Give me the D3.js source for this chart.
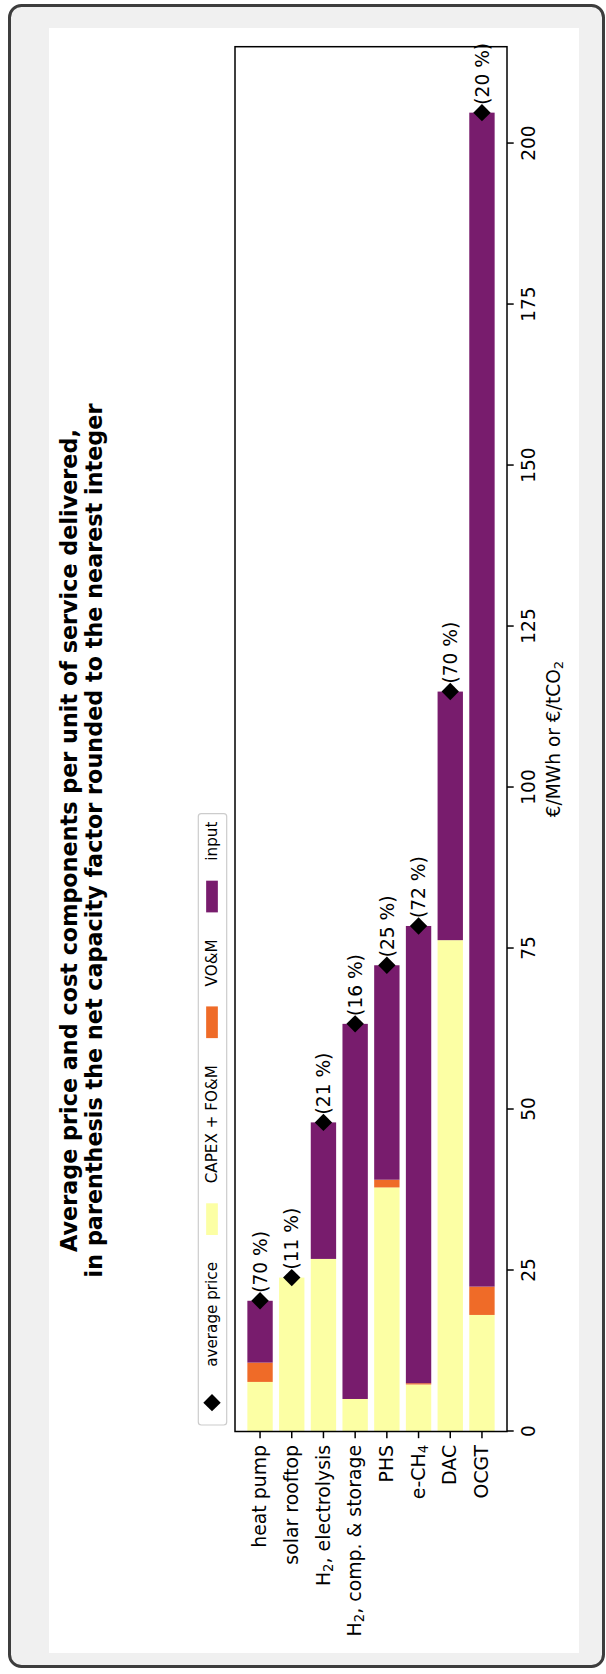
<!DOCTYPE html>
<html>
<head>
<meta charset="utf-8">
<script src="https://cdn.jsdelivr.net/npm/d3@7"></script>
<style>
  html, body { margin: 0; padding: 0; background: #ffffff; }
  svg { display: block; font-family: "DejaVu Sans", sans-serif; }
</style>
</head>
<body>
<svg id="chart" width="606" height="1674"></svg>
<script>
// ---------------- data ----------------
const categories = ["heat pump", "solar rooftop", "H_2, electrolysis", "H_2, comp. & storage", "PHS", "e-CH_4", "DAC", "OCGT"];
const capexFom   = [7.7, 23.9, 26.8, 5.05, 37.9, 7.3, 76.3, 18.1];
const vom        = [3.0, 0.0, 0.0, 0.0, 1.2, 0.2, 0.0, 4.4];
const inputCost  = [9.6, 0.0, 21.2, 58.25, 33.3, 71.0, 38.6, 182.3];
const avgPrice   = [20.3, 23.9, 48.0, 63.3, 72.4, 78.5, 114.9, 204.8];
const capFactor  = [70, 11, 21, 16, 25, 72, 70, 20];
const valueTicks = [0, 25, 50, 75, 100, 125, 150, 175, 200];
const seriesKeys = ["capex", "vom", "input"];
const seriesLabels = ["CAPEX + FO&M", "VO&M", "input"];
const seriesColors = ["#fcffa4", "#ef6b28", "#781c6d"];
const titleLines = ["Average price and cost components per unit of service delivered,",
                    "in parenthesis the net capacity factor rounded to the nearest integer"];
const valueLabel = "€/MWh or €/tCO_2";

// ---------------- page / card ----------------
const W = 606, H = 1674;
const svg = d3.select("#chart");
svg.append("rect").attr("x", 9.5).attr("y", 5.5).attr("width", 594).attr("height", 1661)
   .attr("rx", 12).attr("fill", "#f0f0f0").attr("stroke", "#3d3d3d").attr("stroke-width", 3);

// figure drawn in its own orientation, then rotated -90deg
const g = svg.append("g").attr("transform", `translate(0,${H}) rotate(-90)`);
g.append("rect").attr("x", 21).attr("y", 49).attr("width", 1625).attr("height", 530).attr("fill", "#ffffff");

function setSubText(sel, str) {
  sel.text(null);
  const parts = str.split(/_(\w)/);
  parts.forEach((p, i) => {
    if (p === "") return;
    if (i % 2 === 1) {
      sel.append("tspan").attr("baseline-shift", "-22%").attr("font-size", "70%").text(p);
    } else {
      sel.append("tspan").text(p);
    }
  });
}

const rows = categories.map((c, i) => ({
  cat: c, capex: capexFom[i], vom: vom[i], input: inputCost[i], avg: avgPrice[i], cf: capFactor[i]
}));

const plotL = 242.5, plotR = 1627.3, plotT = 235, plotB = 507;
const maxVal = d3.max(avgPrice) * 1.05;
const x = d3.scaleLinear().domain([0, maxVal]).range([plotL, plotR]);
const y = d3.scaleBand().domain(categories).range([plotT, plotB]).paddingInner(0.2).paddingOuter(0.39);

const stack = d3.stack().keys(seriesKeys)(rows);
const color = d3.scaleOrdinal().domain(seriesKeys).range(seriesColors);
g.append("g").selectAll("g").data(stack).join("g")
  .attr("fill", d => color(d.key))
  .selectAll("rect").data(d => d).join("rect")
  .attr("x", d => x(d[0]))
  .attr("width", d => Math.max(0, x(d[1]) - x(d[0])))
  .attr("y", d => y(d.data.cat))
  .attr("height", y.bandwidth());

const r = 8.7;
g.append("g").selectAll("path").data(rows).join("path")
  .attr("d", `M0,${-r}L${r},0L0,${r}L${-r},0Z`)
  .attr("transform", d => `translate(${x(d.avg)},${y(d.cat) + y.bandwidth() / 2})`)
  .attr("fill", "#000");
g.append("g").selectAll("text").data(rows).join("text")
  .attr("x", d => x(d.avg) + 8)
  .attr("y", d => y(d.cat) + y.bandwidth() / 2)
  .attr("dy", "0.36em")
  .attr("font-size", 18.6)
  .attr("fill", "#000")
  .text(d => `(${d.cf} %)`);

const xAxis = g.append("g").attr("transform", `translate(0,${plotB})`)
  .call(d3.axisBottom(x).tickValues(valueTicks).tickSize(6.7).tickPadding(7.7));
xAxis.select(".domain").remove();
xAxis.selectAll("text").attr("font-size", 18.6).attr("font-family", "DejaVu Sans").attr("fill", "#000");
xAxis.selectAll("line").attr("stroke", "#000").attr("stroke-width", 1.5);

const yAxis = g.append("g").attr("transform", `translate(${plotL},0)`)
  .call(d3.axisLeft(y).tickSize(6.7).tickPadding(6.7));
yAxis.select(".domain").remove();
yAxis.selectAll("text").attr("font-size", 18.9).attr("font-family", "DejaVu Sans").attr("fill", "#000")
  .each(function(d) { setSubText(d3.select(this), d); });
yAxis.selectAll("line").attr("stroke", "#000").attr("stroke-width", 1.5);

g.append("rect").attr("x", plotL).attr("y", plotT).attr("width", plotR - plotL).attr("height", plotB - plotT)
  .attr("fill", "none").attr("stroke", "#000").attr("stroke-width", 1.5);

const vl = g.append("text").attr("x", (plotL + plotR) / 2).attr("y", 560)
  .attr("text-anchor", "middle").attr("font-size", 18.6).attr("fill", "#000");
setSubText(vl, valueLabel);

const title = g.append("text").attr("text-anchor", "middle").attr("font-weight", "bold")
  .attr("font-size", 22.3).attr("fill", "#000");
titleLines.forEach((t, i) => {
  title.append("tspan").attr("x", 833.5).attr("y", 77 + i * 25).text(t);
});

// legend
const legFont = 15.2;
const legend = g.append("g");
const legBox = legend.append("rect").attr("y", 198.3).attr("height", 28.4).attr("rx", 3)
  .attr("fill", "#ffffff").attr("fill-opacity", 0.8).attr("stroke", "#cccccc").attr("stroke-width", 1.2);
const legItems = [{label: "average price", type: "marker"}]
  .concat(seriesKeys.map((k, i) => ({label: seriesLabels[i], type: "patch", color: seriesColors[i]})));
const legStart = 249, handleLen = 31.7, textPad = 20, colSpace = 27, legMid = 212;
let u = legStart + 6.5;
legItems.forEach(it => {
  if (it.type === "marker") {
    legend.append("path").attr("d", `M0,${-r}L${r},0L0,${r}L${-r},0Z`)
      .attr("transform", `translate(${u + handleLen / 2},${legMid})`).attr("fill", "#000");
  } else {
    legend.append("rect").attr("x", u).attr("y", legMid - 5.85).attr("width", handleLen).attr("height", 11.7)
      .attr("fill", it.color);
  }
  const t = legend.append("text").attr("x", u + handleLen + textPad).attr("y", legMid).attr("dy", "0.36em")
    .attr("font-size", legFont).attr("fill", "#000").text(it.label);
  const w = t.node().getComputedTextLength();
  u = u + handleLen + textPad + w + colSpace;
});
legBox.attr("x", legStart).attr("width", (u - colSpace + 8) - legStart);
</script>
</body>
</html>
